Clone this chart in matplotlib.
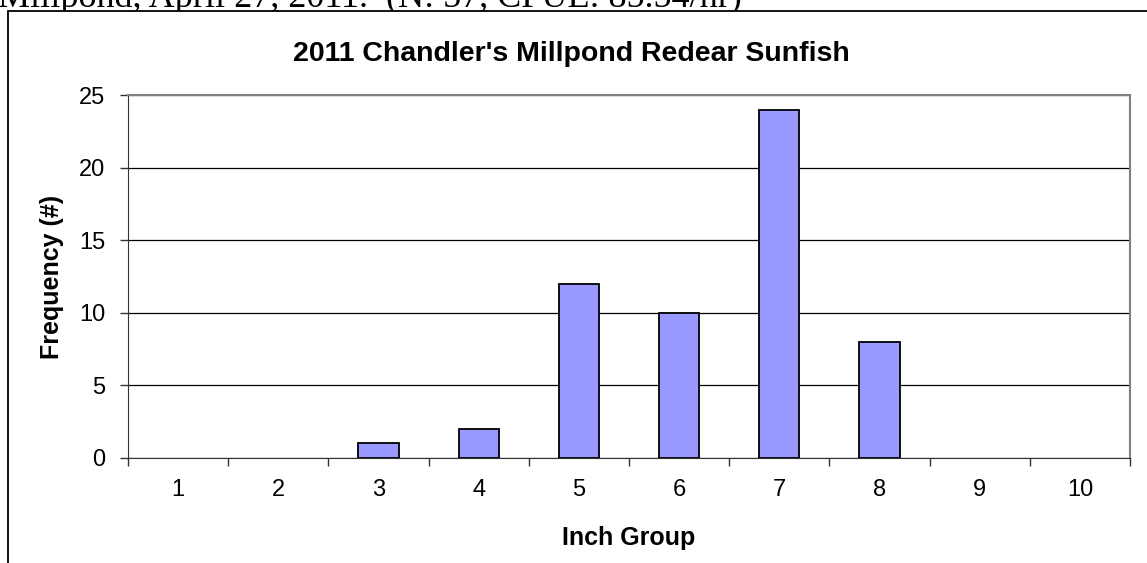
import matplotlib.pyplot as plt
from matplotlib.patches import Rectangle

# Data
inch_groups = ['1', '2', '3', '4', '5', '6', '7', '8', '9', '10']
frequency = [0, 0, 1, 2, 12, 10, 24, 8, 0, 0]

W, H = 1147, 563
fig = plt.figure(figsize=(W / 100, H / 100), dpi=100)
plt.rcParams['font.family'] = ['Liberation Sans', 'DejaVu Sans']

# cut-off caption text from the page above the chart (chart box covers its lower part)
fig.text(-2 / W, 1 - 7 / H, "Millpond, April 27, 2011.  (N: 57, CPUE: 85.54/hr)",
         family='Liberation Serif', fontsize=26, va='baseline', ha='left', zorder=-2)

# chart frame, white filled so it hides the descenders of the caption
fig.patches.append(Rectangle((8 / W, -0.05), 1.2, (H - 11) / H + 0.05,
                             transform=fig.transFigure, facecolor='white',
                             edgecolor='black', linewidth=1.3, zorder=-1))

ax = fig.add_axes([128 / W, (H - 458) / H, (1130 - 128) / W, (458 - 95) / H])
x = list(range(1, len(inch_groups) + 1))
# empty groups get no outline, like the original
lw = [1.3 if v > 0 else 0 for v in frequency]
ax.bar(x, frequency, width=0.4, color='#9999FF', edgecolor='black', linewidth=lw, zorder=3)

ax.set_xlim(0.5, 10.5)
ax.set_ylim(0, 25)
ax.set_yticks(range(0, 26, 5))
ax.yaxis.grid(True, color='black', linewidth=0.9, zorder=0)
ax.set_axisbelow(True)

ax.set_xticks(x)
ax.set_xticklabels(inch_groups)
ax.set_xticks([i + 0.5 for i in range(0, 11)], minor=True)
ax.tick_params(axis='x', which='major', length=0, pad=15, labelsize=17)
ax.tick_params(axis='x', which='minor', length=5.5, width=1, color='#333333')
ax.tick_params(axis='y', length=5.5, width=1, color='#333333', labelsize=17, pad=11)

for side in ['top', 'right']:
    ax.spines[side].set_color('#808080')
    ax.spines[side].set_linewidth(1.5)
ax.spines['left'].set_color('#333333')
ax.spines['bottom'].set_color('#333333')

# title is centred on the whole chart frame, not the plot area
fig.text(571 / W, 1 - 61 / H, "2011 Chandler's Millpond Redear Sunfish",
         fontsize=20.5, fontweight='bold', ha='center', va='baseline')
ax.set_ylabel('Frequency (#)', fontsize=18, fontweight='bold', labelpad=11)
ax.set_xlabel('Inch Group', fontsize=18, fontweight='bold', labelpad=18)

plt.savefig('out.png', dpi=100)
